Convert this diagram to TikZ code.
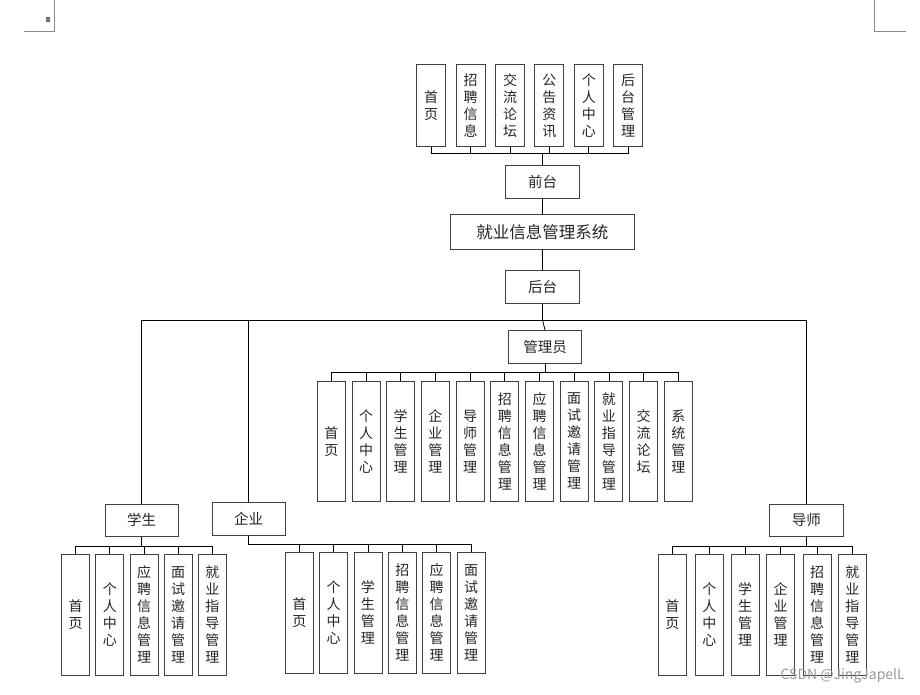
\documentclass[tikz,border=0pt]{standalone}
\usepackage{fontspec}
\setmainfont{Noto Sans CJK SC}
\begin{document}
\begin{tikzpicture}[x=1pt,y=-1pt,
  box/.style={draw=black!75, line width=0.9pt, fill=white, inner sep=0pt, text=black!85},
  hb/.style={box, minimum width=73.5pt, minimum height=32.7pt, font=\fontsize{14.5}{17}\selectfont},
  vb/.style={box, minimum width=28pt, minimum height=121pt, align=center, font=\fontsize{14}{17}\selectfont},
  vbt/.style={vb, minimum width=29pt, minimum height=82.4pt},
  ln/.style={draw=black, line width=0.8pt},
  pagemark/.style={draw=black!45, line width=0.7pt}]
\useasboundingbox (0,0) rectangle (920,694);
% page corner marks
\draw[pagemark] (24,31.5) -- (54,31.5) -- (54,0);
\draw[pagemark] (874,0) -- (874,31.5) -- (906,31.5);
\fill[black!55] (45.5,16.5) rectangle (49.5,21.5);

% main chain
\node[hb] (qt) at (542.5,181.8) {前台};
\node[box, minimum width=183.3pt, minimum height=34.7pt, font=\fontsize{16.5}{19}\selectfont] (sys) at (542.3,231.7) {就业信息管理系统};
\node[hb] (ht) at (542.5,287.2) {后台};
\draw[ln] (qt) -- (sys);
\draw[ln] (sys) -- (ht);

% front-end modules
\foreach \t [count=\i from 0] in {{首\\页},{招\\聘\\信\\息},{交\\流\\论\\坛},{公\\告\\资\\讯},{个\\人\\中\\心},{后\\台\\管\\理}}{
  \node[vbt] (f\i) at ({431.2+39.4*\i},105.5) {\t};
  \draw[ln] (qt.north) -- ++(0,-11.3) -| (f\i.south);
}

% role nodes
\node[hb] (gly) at (545,346.7) {管理员};
\node[hb] (xs) at (141.7,520.3) {学生};
\node[hb] (qy) at (248.7,518.7) {企业};
\node[hb] (ds) at (806.3,520.3) {导师};
\coordinate (hb) at (542.5,320);
\draw[ln] (ht.south) -- (hb);
\draw[ln] (hb) -| (xs.north);
\draw[ln] (hb) -| (qy.north);
\draw[ln] (hb) -| (ds.north);
\draw[ln] (hb) -- (gly.north);

% admin modules
\foreach \t [count=\i from 0] in {{首\\页},{个\\人\\中\\心},{学\\生\\管\\理},{企\\业\\管\\理},{导\\师\\管\\理},{招\\聘\\信\\息\\管\\理},{应\\聘\\信\\息\\管\\理},{面\\试\\邀\\请\\管\\理},{就\\业\\指\\导\\管\\理},{交\\流\\论\\坛},{系\\统\\管\\理}}{
  \node[vb, minimum height=120.7pt] (a\i) at ({331.3+34.7*\i},441.3) {\t};
  \draw[ln] (gly.south) -- ++(0,9.3) -| (a\i.north);
}

% student modules
\foreach \t [count=\i from 0] in {{首\\页},{个\\人\\中\\心},{应\\聘\\信\\息\\管\\理},{面\\试\\邀\\请\\管\\理},{就\\业\\指\\导\\管\\理}}{
  \node[vb, minimum height=120.7pt] (s\i) at ({75.7+34.15*\i},614.7) {\t};
  \draw[ln] (xs.south) -- ++(0,9) -| (s\i.north);
}

% company modules
\foreach \t [count=\i from 0] in {{首\\页},{个\\人\\中\\心},{学\\生\\管\\理},{招\\聘\\信\\息\\管\\理},{应\\聘\\信\\息\\管\\理},{面\\试\\邀\\请\\管\\理}}{
  \node[vb] (c\i) at ({299.3+34.34*\i},612.8) {\t};
  \draw[ln] (qy.south) -- ++(0,9.3) -| (c\i.north);
}

% tutor modules
\foreach \t/\x [count=\i from 0] in {{首\\页}/672.3,{个\\人\\中\\心}/709.3,{学\\生\\管\\理}/745,{企\\业\\管\\理}/780.7,{招\\聘\\信\\息\\管\\理}/817,{就\\业\\指\\导\\管\\理}/852.3}{
  \node[vb] (d\i) at (\x,614.8) {\t};
  \draw[ln] (ds.south) -- ++(0,9) -| (d\i.north);
}

% watermark
\node[anchor=east, text=black!40, font=\fontsize{14}{16}\selectfont, inner sep=0pt] (wm) at (905,676) {CSDN @JingJapelL};
\end{tikzpicture}
\end{document}
